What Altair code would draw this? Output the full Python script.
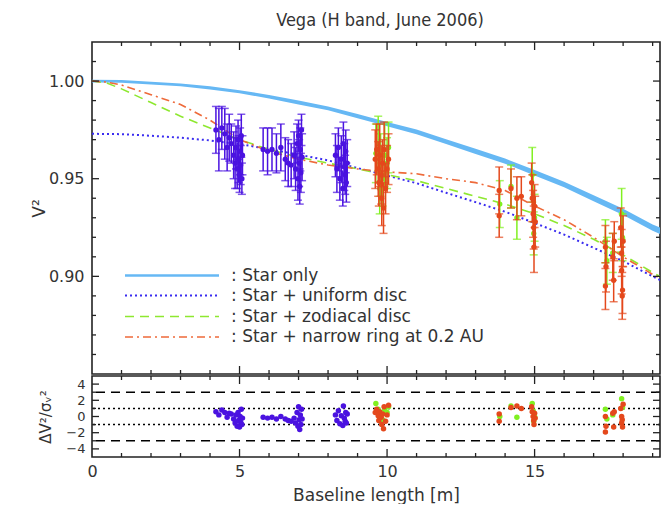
import altair as alt
import pandas as pd

FONT = "DejaVu Sans"
TITLE_FONT = "Liberation Sans Narrow, DejaVu Sans Condensed, Liberation Sans"
TXT = "#333333"

# ---------------- model curves ----------------
star_b = [0, 1, 2, 3, 4, 5, 6, 7, 8, 9, 10, 11, 12, 13, 14, 15, 16, 17, 18, 19, 19.6]
star_hi = [1.0007, 1.0005, 0.9997, 0.9987, 0.9973, 0.9953, 0.9929, 0.9900, 0.9870, 0.9831, 0.9791,
           0.9752, 0.9702, 0.9653, 0.9603, 0.9544, 0.9484, 0.9415, 0.9346, 0.9266, 0.9227]
star_lo = [0.9993, 0.9991, 0.9983, 0.9973, 0.9957, 0.9937, 0.9911, 0.9880, 0.9850, 0.9809, 0.9769,
           0.9728, 0.9678, 0.9627, 0.9577, 0.9516, 0.9456, 0.9385, 0.9314, 0.9234, 0.9193]

uni_b = [0, 1, 2, 3, 4, 5, 6, 7, 8, 9, 10, 11, 12, 13, 14, 15, 16, 17, 18, 19, 19.6]
uni_v = [0.973, 0.9728, 0.972, 0.971, 0.9696, 0.9677, 0.9652, 0.9623, 0.9594, 0.9555, 0.9516,
         0.9477, 0.9428, 0.9380, 0.9331, 0.9273, 0.9214, 0.9146, 0.9078, 0.9000, 0.8955]

zod_b = [0, 0.5, 1, 2, 3, 4, 5, 6, 7, 8, 9, 10, 11, 12, 13, 14, 15, 16, 17, 18, 19, 19.6]
zod_v = [1.000, 0.999, 0.996, 0.989, 0.982, 0.976, 0.970, 0.965, 0.961, 0.958, 0.955, 0.952,
         0.949, 0.945, 0.941, 0.937, 0.932, 0.926, 0.919, 0.911, 0.902, 0.897]

ring_b = [0, 0.5, 1, 2, 3, 4, 5, 6, 7, 8, 9, 10, 11, 12, 13, 14, 15, 16, 17, 18, 19, 19.6]
ring_v = [1.000, 0.9995, 0.998, 0.993, 0.988, 0.980, 0.970, 0.964, 0.960, 0.957, 0.955, 0.9535,
          0.9525, 0.950, 0.948, 0.944, 0.936, 0.929, 0.920, 0.910, 0.901, 0.896]

# ---------------- measurements ----------------
blue_b = [4.20, 4.30, 4.40, 4.50, 4.58, 4.65, 4.72, 4.80, 4.85, 4.88, 4.92, 4.95, 4.97, 5.00, 5.02, 5.04, 5.06, 5.08, 5.10,
          5.80, 5.95, 6.10, 6.25, 6.40, 6.55, 6.65, 6.75, 6.85, 6.90, 6.95, 6.98, 7.00, 7.02, 7.04, 7.06, 7.08, 7.10, 7.12,
          8.25, 8.30, 8.35, 8.40, 8.45, 8.50, 8.52, 8.55, 8.58, 8.60, 8.62, 8.65]
blue_v = [0.975, 0.970, 0.976, 0.973, 0.966, 0.971, 0.968, 0.962, 0.958, 0.966, 0.955, 0.970, 0.960, 0.952, 0.964, 0.957, 0.972, 0.950, 0.962,
          0.965, 0.964, 0.965, 0.963, 0.966, 0.960, 0.958, 0.957, 0.962, 0.955, 0.968, 0.950, 0.972, 0.958, 0.946, 0.965, 0.953, 0.975, 0.961,
          0.962, 0.955, 0.966, 0.950, 0.960, 0.945, 0.968, 0.956, 0.952, 0.964, 0.948, 0.958]
blue_e = [0.012, 0.016, 0.011, 0.013, 0.012, 0.012, 0.010, 0.012, 0.013, 0.011, 0.010, 0.010, 0.012, 0.009, 0.012, 0.010, 0.011, 0.008, 0.010,
          0.011, 0.012, 0.011, 0.010, 0.012, 0.011, 0.012, 0.011, 0.012, 0.011, 0.010, 0.011, 0.008, 0.012, 0.009, 0.011, 0.010, 0.008, 0.012,
          0.011, 0.012, 0.010, 0.011, 0.012, 0.009, 0.011, 0.012, 0.010, 0.011, 0.010, 0.012]
blue_r = [0.6, 0.2, 0.8, 0.5, -0.1, 0.4, 0.3, -0.3, -0.8, 0.2, -1.2, 0.5, -0.5, -1.3, 0.0, -0.7, 0.9, -1.0, -0.2,
          -0.1, -0.2, -0.1, -0.3, 0.0, -0.3, -0.5, -0.6, -0.2, -0.8, 0.5, -1.2, 1.2, -0.4, -1.6, 0.2, -1.0, 0.9, -0.3,
          0.2, -0.5, 0.7, -0.9, 0.1, -1.1, 1.3, -0.2, -0.6, 0.5, -0.8, 0.3]

green_b = [9.62, 9.70, 9.75, 9.78, 9.85, 9.92, 10.00, 10.05,
           13.82, 14.20, 14.40, 14.92, 14.95, 14.97, 15.00,
           17.40, 17.45, 17.65, 17.95, 17.98]
green_v = [0.963, 0.968, 0.945, 0.957, 0.950, 0.962, 0.958, 0.966,
           0.937, 0.946, 0.930, 0.952, 0.940, 0.922, 0.930,
           0.918, 0.908, 0.912, 0.932, 0.920]
green_e = [0.015, 0.014, 0.013, 0.016, 0.014, 0.016, 0.013, 0.013,
           0.012, 0.011, 0.011, 0.014, 0.012, 0.011, 0.012,
           0.011, 0.012, 0.010, 0.013, 0.012]
green_r = [1.6, 0.9, -0.3, 0.3, -0.4, 0.8, 0.5, 1.2,
           0.0, 1.3, -0.1, 1.6, 0.7, -0.6, 0.0,
           0.9, -0.3, 0.2, 2.2, 1.1]

orange_b = [9.60, 9.65, 9.70, 9.72, 9.75, 9.80, 9.82, 9.85, 9.88, 9.90, 9.95, 10.00, 10.05,
            13.80, 13.80, 14.20, 14.40, 14.55, 14.90, 14.92, 14.95, 14.97, 14.98, 15.00, 15.02,
            17.40, 17.40, 17.42, 17.65, 17.68, 17.70, 17.92, 17.95, 17.95, 17.98, 18.00, 17.97]
orange_v = [0.960, 0.965, 0.955, 0.948, 0.962, 0.952, 0.940, 0.958, 0.935, 0.965, 0.945, 0.955, 0.960,
            0.944, 0.931, 0.945, 0.940, 0.941, 0.948, 0.940, 0.932, 0.925, 0.915, 0.936, 0.928,
            0.915, 0.895, 0.905, 0.910, 0.898, 0.918, 0.925, 0.912, 0.903, 0.893, 0.918, 0.890]
orange_e = [0.015, 0.013, 0.014, 0.012, 0.016, 0.015, 0.014, 0.012, 0.013, 0.014, 0.013, 0.012, 0.013,
            0.012, 0.011, 0.010, 0.011, 0.010, 0.010, 0.012, 0.012, 0.011, 0.013, 0.011, 0.013,
            0.011, 0.012, 0.013, 0.012, 0.011, 0.010, 0.010, 0.012, 0.012, 0.012, 0.013, 0.012]
orange_r = [0.5, 0.9, 0.1, -0.5, 0.6, -0.1, -1.0, 0.3, -1.5, 1.2, -0.6, 0.2, 1.4,
            0.3, -0.6, 1.1, 1.3, 1.0, 1.2, 0.6, 0.0, -0.5, -1.0, 0.4, -0.2,
            0.0, -1.9, -1.2, 0.4, -1.3, 0.6, 1.0, 0.0, -0.8, -1.3, 1.5, -0.4]

# ---------------- axis tick values ----------------
x_major = [5, 10, 15]
x_minor = [1, 2, 3, 4, 6, 7, 8, 9, 11, 12, 13, 14, 16, 17, 18, 19]
x_labels = [0, 5, 10, 15]
v_major = [0.90, 0.95, 1.00]
v_minor = [0.86, 0.87, 0.88, 0.89, 0.91, 0.92, 0.93, 0.94, 0.96, 0.97, 0.98, 0.99, 1.01]
r_major = [-4, -2, 0, 2, 4]
r_minor = [-3, -1, 1, 3]
r_dashed = [-3, 3]
r_dotted = [-1, 1]

title_text = "Vega (H band, June 2006)"
legend_labels = [": Star only", ": Star + uniform disc", ": Star + zodiacal disc",
                 ": Star + narrow ring at 0.2 AU"]

BLUE = "#4a12e0"
GREEN = "#80f020"
ORANGE = "#e4481c"
STAR = "#66b8f4"
UNI = "#3a2cf0"
ZOD = "#8ee830"
RING = "#ee6a3a"

W, H1, H2 = 568, 332, 81
XMAX = 19.25
xscale = alt.Scale(domain=[0, XMAX], nice=False, zero=False)
vscale = alt.Scale(domain=[0.85, 1.02], nice=False, zero=False)
rscale = alt.Scale(domain=[-5, 5], nice=False, zero=False)

v_axis = alt.Axis(values=v_major, format=".2f", ticks=False, domain=False, grid=False,
                  labelFont=FONT, labelFontSize=16, labelColor=TXT, labelPadding=8,
                  title="V²", titleFont=FONT, titleFontSize=17, titleFontWeight="normal",
                  titleColor=TXT, titlePadding=0)
r_axis = alt.Axis(values=r_major, ticks=False, domain=False, grid=False,
                  labelFont=FONT, labelFontSize=13, labelColor=TXT, labelPadding=7,
                  title="ΔV²/σᵥ²", titleFont=FONT, titleFontSize=15, titleFontWeight="normal",
                  titleColor=TXT, titlePadding=12)
x_axis = alt.Axis(values=x_labels, ticks=False, domain=False, grid=False, labelFlush=False,
                  labelFont=FONT, labelFontSize=16, labelColor=TXT, labelPadding=6,
                  title="Baseline length [m]", titleFont=FONT, titleFontSize=17,
                  titleFontWeight="normal", titleColor=TXT, titlePadding=8)


def XT(field="b"):
    return alt.X(f"{field}:Q", scale=xscale, axis=None)


def XB(field="b"):
    return alt.X(f"{field}:Q", scale=xscale, axis=x_axis)


def VY(field):
    return alt.Y(f"{field}:Q", scale=vscale, axis=v_axis)


def RY(field):
    return alt.Y(f"{field}:Q", scale=rscale, axis=r_axis)


def meas_df(b, v, e):
    d = pd.DataFrame({"b": b, "v": v, "e": e})
    d["lo"] = d["v"] - d["e"]
    d["hi"] = d["v"] + d["e"]
    return d


def meas_layers(d, color):
    bars = alt.Chart(d).mark_rule(color=color, strokeWidth=1.5, clip=True).encode(
        x=XT(), y=VY("lo"), y2="hi")
    cap_lo = alt.Chart(d).mark_tick(color=color, orient="horizontal", size=8, thickness=1.5,
                                    clip=True).encode(x=XT(), y=VY("lo"))
    cap_hi = alt.Chart(d).mark_tick(color=color, orient="horizontal", size=8, thickness=1.5,
                                    clip=True).encode(x=XT(), y=VY("hi"))
    pts = alt.Chart(d).mark_circle(color=color, size=28, opacity=1, clip=True).encode(
        x=XT(), y=VY("v"))
    return [bars, cap_lo, cap_hi, pts]


def frame_ticks(xfun, yfun, yvals_major, yvals_minor, height):
    layers = []
    for vals, ln in ((x_major, 8), (x_minor, 4)):
        d = pd.DataFrame({"b": vals})
        layers.append(alt.Chart(d).mark_rule(color="#222", strokeWidth=1.3).encode(
            x=xfun(), y=alt.value(0), y2=alt.value(ln)))
        layers.append(alt.Chart(d).mark_rule(color="#222", strokeWidth=1.3).encode(
            x=xfun(), y=alt.value(height), y2=alt.value(height - ln)))
    for vals, ln in ((yvals_major, 7), (yvals_minor, 4)):
        d = pd.DataFrame({"t": vals})
        layers.append(alt.Chart(d).mark_rule(color="#222", strokeWidth=1.3).encode(
            y=yfun("t"), x=alt.value(0), x2=alt.value(ln)))
        layers.append(alt.Chart(d).mark_rule(color="#222", strokeWidth=1.3).encode(
            y=yfun("t"), x=alt.value(W), x2=alt.value(W - ln)))
    return layers


# ---------------- top panel ----------------
star_df = pd.DataFrame({"b": star_b, "v": star_lo, "v_hi": star_hi})
uni_df = pd.DataFrame({"b": uni_b, "v": uni_v})
zod_df = pd.DataFrame({"b": zod_b, "v": zod_v})
ring_df = pd.DataFrame({"b": ring_b, "v": ring_v})

star_area = alt.Chart(star_df).mark_area(color=STAR, opacity=1, clip=True).encode(
    x=XT(), y=VY("v"), y2="v_hi")
uni_line = alt.Chart(uni_df).mark_line(color=UNI, strokeWidth=2, strokeDash=[2, 3], clip=True).encode(
    x=XT(), y=VY("v"))
zod_line = alt.Chart(zod_df).mark_line(color=ZOD, strokeWidth=1.6, strokeDash=[9, 6], clip=True).encode(
    x=XT(), y=VY("v"))
ring_line = alt.Chart(ring_df).mark_line(color=RING, strokeWidth=1.6, strokeDash=[8, 4, 2, 4],
                                         clip=True).encode(x=XT(), y=VY("v"))

top_layers = [star_area, uni_line, zod_line, ring_line]
top_layers += meas_layers(meas_df(blue_b, blue_v, blue_e), BLUE)
top_layers += meas_layers(meas_df(green_b, green_v, green_e), GREEN)
top_layers += meas_layers(meas_df(orange_b, orange_v, orange_e), ORANGE)

# legend (drawn inside the plot)
leg_styles = [
    dict(color=STAR, strokeWidth=2.5),
    dict(color=UNI, strokeWidth=2, strokeDash=[2, 3]),
    dict(color=ZOD, strokeWidth=1.6, strokeDash=[9, 6]),
    dict(color=RING, strokeWidth=1.6, strokeDash=[8, 4, 2, 4]),
]
leg_y = [233.5, 253.5, 274.5, 295.0]
for lab, sty, yy in zip(legend_labels, leg_styles, leg_y):
    d = pd.DataFrame({"label": [lab]})
    top_layers.append(alt.Chart(d).mark_rule(**sty).encode(
        x=alt.value(33), x2=alt.value(127), y=alt.value(yy)))
    top_layers.append(alt.Chart(d).mark_text(align="left", baseline="middle", font=FONT,
                                             fontSize=17, color=TXT).encode(
        x=alt.value(139), y=alt.value(yy), text="label:N"))

# title drawn as text centred over the (uncropped) plot area
top_layers.append(alt.Chart(pd.DataFrame({"label": [title_text]})).mark_text(
    align="center", baseline="middle", font=TITLE_FONT, fontSize=18, color=TXT).encode(
    x=alt.value(288), y=alt.value(-21), text="label:N"))

top_layers += frame_ticks(XT, VY, v_major, v_minor, H1)

top = alt.layer(*top_layers).properties(width=W, height=H1)

# ---------------- residual panel ----------------
bot_layers = []
bot_layers.append(alt.Chart(pd.DataFrame({"t": r_dashed})).mark_rule(
    color="black", strokeWidth=1.5, strokeDash=[9, 6]).encode(y=RY("t")))
bot_layers.append(alt.Chart(pd.DataFrame({"t": r_dotted})).mark_rule(
    color="black", strokeWidth=1.5, strokeDash=[2, 3]).encode(y=RY("t")))
for b, r, c in ((blue_b, blue_r, BLUE), (green_b, green_r, GREEN), (orange_b, orange_r, ORANGE)):
    d = pd.DataFrame({"b": b, "r": r})
    bot_layers.append(alt.Chart(d).mark_circle(color=c, size=30, opacity=1, clip=True).encode(
        x=XB(), y=RY("r")))
bot_layers += frame_ticks(XB, RY, r_major, r_minor, H2)

bottom = alt.layer(*bot_layers).properties(width=W, height=H2)

chart = alt.vconcat(top, bottom, spacing=-7).properties(
    padding={"left": 21, "top": 3, "right": 0, "bottom": 0}
).configure_view(stroke="#222222", strokeWidth=1.6)

chart.save("out.html", embed_options={"renderer": "svg", "actions": False})
